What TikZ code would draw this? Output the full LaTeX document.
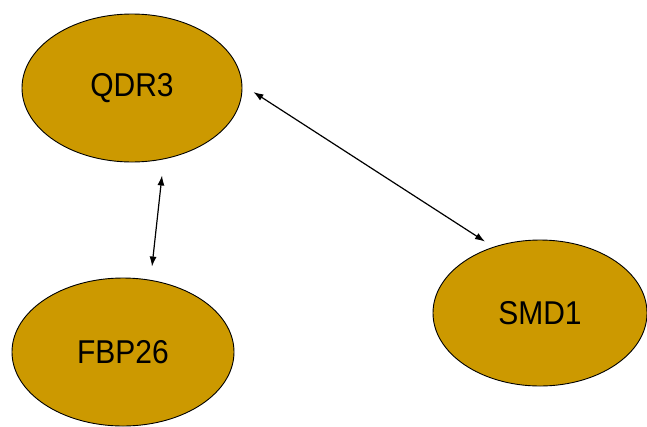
\documentclass[tikz,border=0pt]{standalone}
\usepackage{fontspec}
\setmainfont{Liberation Sans}
\usetikzlibrary{shapes.geometric,arrows.meta}
\tikzset{
  protein/.style={ellipse, draw=black, line width=0.9pt, fill=gold,
    inner sep=0pt, minimum width=220pt, minimum height=148pt,
    font=\fontsize{30}{36}\selectfont},
  link/.style={line width=1.2pt, {Latex[length=10pt,width=7pt]}-{Latex[length=10pt,width=7pt]}}
}
\definecolor{gold}{HTML}{CC9900}
\begin{document}
\begin{tikzpicture}[x=1pt,y=-1pt]
  \useasboundingbox (0,0) rectangle (647,426);
  \fill[white] (0,0) rectangle (647,426);
  % the three proteins
  \node[protein] (q) at (132,88) {\scalebox{1}[1.1]{QDR3}};
  \node[protein, minimum width=222pt] (f) at (123,352) {\scalebox{1}[1.1]{FBP26}};
  \node[protein, minimum width=214pt, minimum height=146pt] (s) at (540,313) {\scalebox{1}[1.1]{SMD1}};
  % end points of the interaction arrows
  \coordinate (qs) at ([shift={(11pt,-4pt)}]q.east);
  \coordinate (sq) at ([shift={(-55pt,-2pt)}]s.north);
  \coordinate (qf) at ([shift={(30pt,-13pt)}]q.south);
  \coordinate (fq) at ([shift={(29pt,11pt)}]f.north);
  % interactions
  \draw[link] (qs) -- (sq);
  \draw[link] (qf) -- (fq);
\end{tikzpicture}
\end{document}
